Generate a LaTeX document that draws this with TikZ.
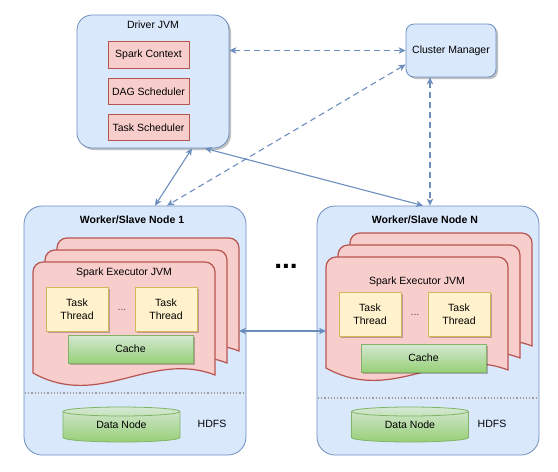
\documentclass[tikz,border=0pt]{standalone}
\usepackage{fontspec}
\setmainfont{Liberation Sans}
\usetikzlibrary{arrows.meta,positioning,shadows}

\definecolor{bluefill}{HTML}{DAE8FC}
\definecolor{bluedraw}{HTML}{6C8EBF}
\definecolor{redfill}{HTML}{F8CECC}
\definecolor{reddraw}{HTML}{B85450}
\definecolor{yelfill}{HTML}{FFF2CC}
\definecolor{yeldraw}{HTML}{D6B656}
\definecolor{grnlight}{HTML}{D5E8D4}
\definecolor{grndark}{HTML}{97D077}
\definecolor{grndraw}{HTML}{82B366}

\tikzset{
  base/.style={font=\fontsize{10.5}{12.5}\selectfont, text=black},
  softshadow/.style={drop shadow={shadow xshift=2pt, shadow yshift=-2pt, opacity=0.25, fill=black}},
  jvmbox/.style={base, draw=bluedraw, fill=bluefill, line width=0.8pt, rounded corners=#1},
  jvmbox/.default=8pt,
  redbox/.style={base, draw=reddraw, fill=redfill, line width=0.8pt, minimum width=81pt, minimum height=26.5pt, inner sep=0pt},
  taskbox/.style={base, draw=yeldraw, fill=yelfill, line width=0.8pt, minimum width=62pt, minimum height=44pt, inner sep=0pt, align=center, softshadow},
  cachebox/.style={base, draw=grndraw, top color=grnlight, bottom color=grndark, line width=0.8pt, minimum width=125pt, minimum height=28pt, inner sep=0pt, softshadow},
  execshape/.style={draw=reddraw, fill=redfill, line width=1.2pt},
  dnshape/.style={draw=grndraw, top color=grnlight, bottom color=grndark, line width=0.8pt},
  hdfsline/.style={draw=gray!80, line width=1.2pt, dotted},
  link/.style={draw=bluedraw, line width=1.1pt, {Stealth[length=7pt,width=6.5pt,inset=2pt]}-{Stealth[length=7pt,width=6.5pt,inset=2pt]}},
  dashlink/.style={link, dash pattern=on 6pt off 4pt},
}

% one stacked executor sheet: #1 = left x, #2 = top (pixels down)
\newcommand{\execdoc}[2]{%
  \draw[execshape] (#1,{-#2-111}) -- (#1,{-#2-10})
    arc[start angle=180,end angle=90,radius=10] -- ({#1+172},-#2)
    arc[start angle=90,end angle=0,radius=10] -- ({#1+182},{-#2-113})
    .. controls ({#1+117},{-#2-88}) and ({#1+67},{-#2-148}) .. (#1,{-#2-111}) -- cycle;}

\begin{document}
\begin{tikzpicture}[x=1pt,y=1pt]
\useasboundingbox (0,0) rectangle (558,-472);

% driver
\node[jvmbox=15pt, minimum width=152pt, minimum height=133pt, softshadow] (driver) at (153,-81.5) {};
\node[base] (drvtitle) at (153,-25) {Driver JVM};
\node[redbox] (sc) at (148.5,-55) {Spark Context};
\node[redbox, below=9pt of sc] (dag) {DAG Scheduler};
\node[redbox, below=9pt of dag] (ts) {Task Scheduler};

% cluster manager
\node[jvmbox=8pt, minimum width=90pt, minimum height=53pt, softshadow] (cm) at (451,-50.5) {Cluster Manager};

% workers
\foreach \dx/\dy/\ey/\dn/\hx/\lab/\nm in {0/0/0/121.5/212/1/a, 293/5/9/410/492/N/b}{
  \node[jvmbox=18pt, minimum width=222pt, minimum height=249pt] (w\nm) at ({135+\dx},-330.5) {};
  \node[base, font=\fontsize{10.5}{12.5}\selectfont\bfseries] (wt\nm) at ({132+\dx},-220) {Worker/Slave Node \lab};
  \execdoc{57+\dx}{238+\dy}
  \execdoc{45+\dx}{250+\dy}
  \execdoc{33+\dx}{262+\dy}
  \coordinate (exl\nm) at ({33+\dx},-331);
  \coordinate (exr\nm) at ({239+\dx},-331);
  \node[base] (et\nm) at ({124+\dx},{-273-\ey}) {Spark Executor JVM};
  \node[taskbox] (ta\nm) at ({77+\dx},{-309-\dy}) {Task\\Thread};
  \node[taskbox] (tb\nm) at ({166+\dx},{-309-\dy}) {Task\\Thread};
  \node[base, text=black!70] (td\nm) at ({122+\dx},{-310-\dy}) {...};
  \node[cachebox] (ca\nm) at ({130.5+\dx},{-349-\ey}) {Cache};
  \draw[hdfsline] ({25+\dx},{-393-\dy}) -- ({245+\dx},{-393-\dy});
  \draw[dnshape] ({\dn-58.5},-411.5) -- ({\dn-58.5},-437.5)
    arc[start angle=180,end angle=360,x radius=58.5,y radius=4.5] -- ({\dn+58.5},-411.5)
    arc[start angle=0,end angle=180,x radius=58.5,y radius=4.5] -- cycle;
  \draw[grndraw, line width=0.8pt] ({\dn-58.5},-411.5) arc[start angle=180,end angle=360,x radius=58.5,y radius=4.5];
  \node[base] (dn\nm) at (\dn,-425) {Data Node};
  \node[base] (hd\nm) at (\hx,-424) {HDFS};
}

\node[font=\fontsize{28}{28}\selectfont\bfseries] (more) at (286,-266) {...};

% connectors
\draw[dashlink] (driver.east |- cm.west) -- (cm.west);
\draw[dashlink] ([yshift=-14pt]cm.west) -- ([xshift=32pt]wa.north);
\draw[dashlink] ([xshift=-21pt]cm.south) -- ([xshift=-21pt]cm.south |- wb.north);
\draw[link] ([xshift=39pt]driver.south) -- ([xshift=20pt]wa.north);
\draw[link] ([xshift=52pt]driver.south) -- ([xshift=-5pt]wb.north);
\draw[link] (exra) -- (exlb);
\end{tikzpicture}
\end{document}
